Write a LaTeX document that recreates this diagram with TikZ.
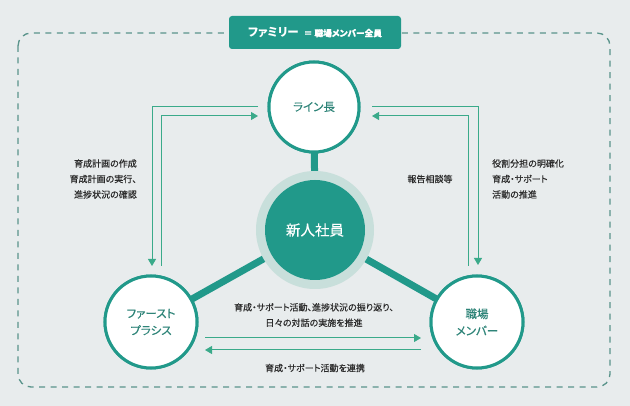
\documentclass[tikz,border=0pt]{standalone}
\usepackage{fontspec}
\setmainfont{Noto Sans CJK JP}[RawFeature=+palt]
\newfontfamily\medfont{Noto Sans CJK JP}[RawFeature=+palt,FakeBold=0.35]
\usetikzlibrary{arrows.meta}
\definecolor{bgc}{HTML}{E8ECED}
\definecolor{tealc}{HTML}{21998A}
\definecolor{haloc}{HTML}{C8DFDB}
\definecolor{arrc}{HTML}{3AAA8A}
\definecolor{dashc}{HTML}{5A948B}
\definecolor{ntextc}{HTML}{2E8478}
\definecolor{ltextc}{HTML}{2B2B2B}
\tikzset{
  rolenode/.style={circle,draw=tealc,line width=3pt,fill=white,minimum size=90pt,inner sep=0pt,text=ntextc,font=\medfont\fontsize{11.5}{17}\selectfont,align=center},
  lbl/.style={text=ltextc,font=\medfont\fontsize{9}{15.5}\selectfont,inner sep=0pt},
  flow/.style={draw=arrc,line width=1pt},
  flowa/.style={flow,-{Triangle[length=7pt,width=8pt]}},
  bond/.style={draw=tealc,line width=7pt}
}
\begin{document}
\begin{tikzpicture}[x=1pt,y=-1pt]
\useasboundingbox (0,0) rectangle (630,406);
\fill[bgc] (0,0) rectangle (630,406);
\draw[draw=dashc,line width=1.3pt,dash pattern=on 6pt off 5.5pt,rounded corners=13pt] (18,33) rectangle (610,387);
\node[fill=tealc,rounded corners=3pt,minimum width=172pt,minimum height=33pt,inner sep=0pt,text=white] (fam) at (315,32.5)
  {\fontsize{11.5}{14}\selectfont\bfseries ファミリー\hspace{5pt}\medfont\fontsize{8.7}{14}\selectfont ＝ 職場メンバー全員};
% coordinates
\coordinate (cc) at (315,230);
\node[rolenode] (line) at (314,107) {ライン長};
\node[rolenode,minimum size=92pt] (fp) at (151,322) {ファースト\\プラシス};
\node[rolenode,minimum size=92pt] (sm) at (477,322) {職場\\メンバー};
% bonds
\draw[bond] (line.center) -- (cc);
\draw[bond] (fp.center) -- (cc);
\draw[bond] (sm.center) -- (cc);
\node[rolenode] at (line) {ライン長};
\node[rolenode,minimum size=92pt] at (fp) {ファースト\\プラシス};
\node[rolenode,minimum size=92pt] at (sm) {職場\\メンバー};
\fill[haloc] (cc) circle (59pt);
\node[circle,fill=tealc,minimum size=100pt,inner sep=0pt,text=white,font=\medfont\fontsize{14.5}{16}\selectfont] (new) at (cc) {新人社員};
% left loop
\coordinate (l1) at (258,107);
\coordinate (l2) at (152,107);
\coordinate (l3) at (152,266);
\coordinate (l4) at (161,266);
\coordinate (l5) at (161,116);
\coordinate (l6) at (258,116);
\draw[flowa] (l1) -- (l2) -- (l3);
\draw[flowa] (l4) -- (l5) -- (l6);
% right loop
\coordinate (r1) at (372,107);
\coordinate (r2) at (478,107);
\coordinate (r3) at (478,265);
\coordinate (r4) at (468,266);
\coordinate (r5) at (468,116);
\coordinate (r6) at (372,116);
\draw[flowa] (r1) -- (r2) -- (r3);
\draw[flowa] (r4) -- (r5) -- (r6);
% bottom
\coordinate (b1) at (205,338);
\coordinate (b2) at (421,338);
\coordinate (b3) at (421,350);
\coordinate (b4) at (205,350);
\draw[flowa] (b1) -- (b2);
\draw[flowa] (b3) -- (b4);
% labels
\node[lbl,align=right,anchor=east] (tl) at (137,179) {育成計画の作成\\育成計画の実行、\\進捗状況の確認};
\node[lbl] (tm) at (430,179) {報告相談等};
\node[lbl,align=left,anchor=west] (tr) at (492,179) {役割分担の明確化\\育成・サポート\\活動の推進};
\node[lbl,align=center] (tb) at (314,315) {育成・サポート活動、進捗状況の振り返り、\\日々の対話の実施を推進};
\node[lbl] (tb2) at (315,368) {育成・サポート活動を連携};
\end{tikzpicture}
\end{document}
